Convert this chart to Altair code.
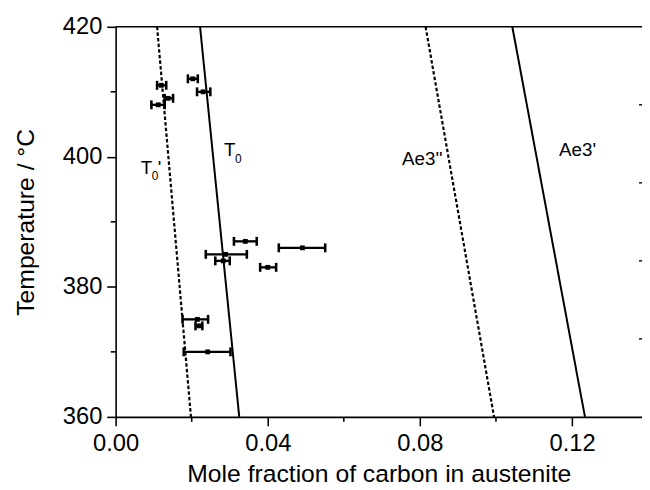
import altair as alt
import pandas as pd

# ---- phase-boundary lines (mole fraction of C at T=360 and T=420 C)
line_names = ["T0'", "T0", "Ae3''", "Ae3'"]
x_at_360 = [0.0198, 0.0325, 0.0995, 0.1234]
x_at_420 = [0.0109, 0.0222, 0.0815, 0.1043]
line_dashed = [True, False, True, False]

# ---- measured points with horizontal error bars
pt_T = [411, 412, 410, 409, 408, 387, 386, 385, 384, 383, 375, 374, 370]
pt_x = [0.0120, 0.0203, 0.0230, 0.0138, 0.0112, 0.0341, 0.0491, 0.0289,
        0.0283, 0.0400, 0.0215, 0.0220, 0.0242]
pt_lo = [0.0109, 0.0190, 0.0214, 0.0129, 0.0094, 0.0311, 0.0429, 0.0237,
         0.0262, 0.0380, 0.0176, 0.0210, 0.0179]
pt_hi = [0.0133, 0.0216, 0.0249, 0.0151, 0.0129, 0.0371, 0.0551, 0.0345,
         0.0300, 0.0422, 0.0243, 0.0228, 0.0302]

# ---- line labels (T, subscript 0, prime pieces)
lab_text = ["T", "0", "'", "T", "0", "Ae3''", "Ae3'"]
lab_x = [0.0066, 0.0095, 0.0111, 0.0285, 0.0314, 0.0753, 0.1166]
lab_T = [397.4, 396.5, 397.4, 400.1, 399.1, 398.8, 400.1]
lab_size = [19, 12, 19, 19, 12, 19, 19]

# ---- axis ticks
x_major = [0.0, 0.04, 0.08, 0.12]
x_minor = [0.02, 0.06, 0.10]
y_major = [360, 380, 400, 420]
y_minor = [370, 390, 410]
right_ticks = [372, 384, 396, 408]

W, H = 533, 395
FONT = "Liberation Sans"

xs = alt.Scale(domain=[0, 0.1384], nice=False, zero=False)
ys = alt.Scale(domain=[360, 420], nice=False, zero=False)
x_axis = alt.Axis(values=x_major, format=".2f", title="Mole fraction of carbon in austenite",
                  tickSize=9, labelPadding=6, titlePadding=6, grid=False, labelFlush=False)
y_axis = alt.Axis(values=y_major, title="Temperature / °C", tickSize=9,
                  labelPadding=5, titlePadding=24, grid=False, labelFlush=False)


def X(field, **kw):
    return alt.X(field, type="quantitative", scale=xs, axis=x_axis, **kw)


def Y(field, **kw):
    return alt.Y(field, type="quantitative", scale=ys, axis=y_axis, **kw)


rows = []
for n, a, b, d in zip(line_names, x_at_360, x_at_420, line_dashed):
    rows.append({"name": n, "x": a, "T": 360, "dashed": d})
    rows.append({"name": n, "x": b, "T": 420, "dashed": d})
lines_df = pd.DataFrame(rows)

pts_df = pd.DataFrame({"T": pt_T, "x": pt_x, "lo": pt_lo, "hi": pt_hi})
labs_df = pd.DataFrame({"text": lab_text, "x": lab_x, "T": lab_T, "fs": lab_size})

solid = alt.Chart(lines_df[~lines_df.dashed]).mark_line(color="black", strokeWidth=2).encode(
    x=X("x"), y=Y("T"), detail="name:N")
dashed = alt.Chart(lines_df[lines_df.dashed]).mark_line(
    color="black", strokeWidth=2.2, strokeDash=[3.5, 2.2]).encode(
    x=X("x"), y=Y("T"), detail="name:N")

bars = alt.Chart(pts_df).mark_rule(color="black", strokeWidth=2.4).encode(
    x=X("lo"), x2="hi", y=Y("T"))
cap_lo = alt.Chart(pts_df).mark_tick(color="black", orient="vertical", size=9,
                                     thickness=2.6, opacity=1).encode(x=X("lo"), y=Y("T"))
cap_hi = alt.Chart(pts_df).mark_tick(color="black", orient="vertical", size=9,
                                     thickness=2.6, opacity=1).encode(x=X("hi"), y=Y("T"))
centers = alt.Chart(pts_df).mark_square(color="black", size=24, filled=True, opacity=1).encode(
    x=X("x"), y=Y("T"))

labels = alt.Chart(labs_df).mark_text(font=FONT, align="left", baseline="alphabetic",
                                      color="black").encode(
    x=X("x"), y=Y("T"), text="text:N", size=alt.Size("fs:Q", scale=None))

# minor ticks and frame decorations
yminor = alt.Chart(pd.DataFrame({"T": y_minor})).mark_rule(color="black", strokeWidth=1.6).encode(
    y=Y("T"), x=alt.value(-5), x2=alt.value(0))
xminor = alt.Chart(pd.DataFrame({"x": x_minor})).mark_rule(color="black", strokeWidth=1.6).encode(
    x=X("x"), y=alt.value(H), y2=alt.value(H + 5))
rticks = alt.Chart(pd.DataFrame({"T": right_ticks})).mark_rule(color="black", strokeWidth=1.4).encode(
    y=Y("T"), x=alt.value(W - 3), x2=alt.value(W))
top = alt.Chart(pd.DataFrame({"a": [0]})).mark_rule(color="black", strokeWidth=1.6).encode(
    x=alt.value(0), x2=alt.value(W), y=alt.value(0))

chart = alt.layer(solid, dashed, bars, cap_lo, cap_hi, centers, labels,
                  yminor, xminor, rticks, top).properties(
    width=W, height=H,
    autosize=alt.AutoSizeParams(type="none"),
    padding={"left": 109, "top": 16, "right": 0, "bottom": 71},
).configure_view(strokeOpacity=0).configure_axis(
    labelFont=FONT, labelFontSize=24, labelColor="black",
    titleFont=FONT, titleFontSize=25, titleFontWeight="normal", titleColor="black",
    domainColor="black", domainWidth=1.6, tickColor="black", tickWidth=1.6,
)

chart.save("out.html", embed_options={"renderer": "svg", "actions": False})
